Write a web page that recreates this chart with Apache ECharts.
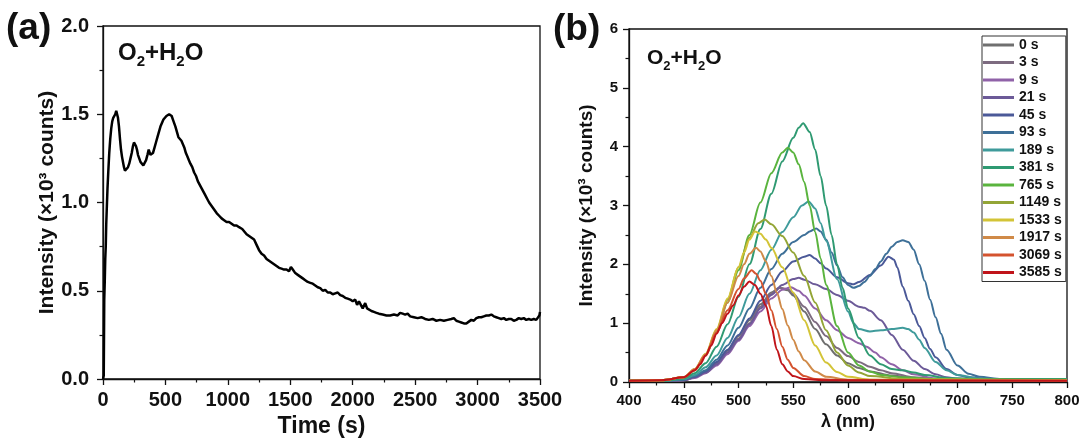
<!DOCTYPE html>
<html>
<head>
<meta charset="utf-8">
<script src="https://cdn.jsdelivr.net/npm/echarts@6/dist/echarts.min.js"></script>
<style>
  html, body { margin: 0; padding: 0; background: #fff; }
  #chart { width: 1084px; height: 448px; }
</style>
</head>
<body>
<div id="chart"></div>
<script>
// ---- panel (a): integrated intensity vs time, [s, x10^3 counts] ----
const intensityTrace = [
  [0,0],[6,0.02],[10,0.45],[14,0.55],[18,0.68],[22,0.75],[26,0.88],[30,0.96],[36,1.08],[42,1.17],
  [50,1.28],[58,1.36],[66,1.42],[74,1.46],[82,1.48],[90,1.49],[98,1.50],[106,1.52],[112,1.51],[120,1.48],
  [128,1.43],[136,1.36],[144,1.30],[152,1.26],[160,1.23],[168,1.20],[176,1.18],[184,1.175],[192,1.18],[200,1.20],
  [210,1.22],[220,1.25],[230,1.28],[240,1.32],[248,1.34],[256,1.345],[264,1.32],[272,1.30],[280,1.27],[290,1.25],
  [300,1.23],[310,1.22],[323,1.21],[334,1.22],[345,1.24],[356,1.27],[366,1.30],[372,1.29],[380,1.27],[390,1.26],
  [400,1.28],[412,1.31],[424,1.34],[436,1.37],[448,1.40],[460,1.43],[472,1.45],[484,1.47],[496,1.48],[508,1.49],
  [520,1.49],[530,1.50],[540,1.50],[550,1.49],[560,1.47],[570,1.45],[580,1.43],[592,1.40],[604,1.37],[616,1.36],
  [628,1.35],[640,1.34],[652,1.31],[664,1.28],[676,1.26],[688,1.24],[700,1.22],[715,1.20],[730,1.17],[745,1.15],
  [760,1.12],[775,1.10],[790,1.08],[805,1.06],[820,1.04],[835,1.02],[850,1.00],[870,0.98],[890,0.96],[910,0.94],
  [930,0.925],[950,0.91],[970,0.90],[990,0.89],[1010,0.89],[1030,0.88],[1050,0.87],[1070,0.87],[1090,0.86],[1105,0.87],
  [1115,0.85],[1130,0.84],[1150,0.82],[1170,0.81],[1190,0.80],[1210,0.79],[1230,0.76],[1250,0.73],[1270,0.71],[1290,0.70],
  [1310,0.68],[1330,0.67],[1350,0.66],[1370,0.65],[1390,0.64],[1410,0.63],[1430,0.625],[1450,0.62],[1470,0.62],[1490,0.61],
  [1505,0.635],[1520,0.62],[1540,0.60],[1560,0.59],[1580,0.58],[1600,0.57],[1620,0.56],[1640,0.55],[1660,0.545],[1680,0.54],
  [1700,0.53],[1720,0.52],[1740,0.515],[1760,0.50],[1780,0.505],[1800,0.49],[1820,0.49],[1840,0.48],[1860,0.485],[1880,0.49],
  [1900,0.475],[1920,0.47],[1940,0.46],[1960,0.455],[1980,0.45],[2000,0.44],[2020,0.45],[2035,0.42],[2050,0.44],[2065,0.43],
  [2080,0.40],[2100,0.43],[2115,0.40],[2130,0.39],[2150,0.385],[2170,0.38],[2190,0.375],[2210,0.37],[2240,0.365],[2270,0.36],
  [2300,0.36],[2330,0.365],[2360,0.36],[2380,0.375],[2400,0.37],[2420,0.365],[2440,0.37],[2460,0.355],[2490,0.35],[2520,0.345],
  [2550,0.35],[2580,0.34],[2610,0.335],[2640,0.34],[2670,0.33],[2700,0.335],[2730,0.33],[2760,0.335],[2790,0.34],[2810,0.345],
  [2830,0.33],[2850,0.325],[2870,0.32],[2890,0.315],[2910,0.315],[2930,0.325],[2950,0.335],[2970,0.33],[2990,0.345],[3010,0.35],
  [3030,0.35],[3050,0.355],[3070,0.36],[3090,0.36],[3110,0.365],[3130,0.355],[3150,0.35],[3170,0.345],[3190,0.34],[3210,0.345],
  [3230,0.335],[3250,0.34],[3270,0.34],[3290,0.33],[3310,0.335],[3330,0.345],[3350,0.34],[3370,0.345],[3390,0.335],[3410,0.34],
  [3430,0.335],[3450,0.34],[3470,0.335],[3485,0.34],[3495,0.36],[3500,0.38]
];

// ---- panel (b): emission spectra, [nm, x10^3 counts] ----
const spectrumLabels = ['0 s','3 s','9 s','21 s','45 s','93 s','189 s','381 s','765 s','1149 s','1533 s','1917 s','3069 s','3585 s'];
const spectrumColors = ['#6f6f6f','#7d6b80','#9062a8','#6c5a98','#4b5998','#3e7098','#3f9b9b','#2f9a72','#5ab43e','#93a536','#d3c437','#d08a48','#d4532f','#c0141a'];

const spec0 = [[400,0.02],[430,0.02],[450,0.03],[460,0.08],[470,0.17],[480,0.32],[490,0.53],[500,0.78],[510,1.05],[520,1.32],[530,1.52],[537,1.6],[545,1.56],[550,1.47],[560,1.2],[570,0.9],[580,0.64],[590,0.45],[600,0.32],[610,0.24],[620,0.18],[640,0.11],[660,0.07],[700,0.04],[800,0.03]];
const spec3 = [[400,0.02],[430,0.02],[450,0.03],[460,0.08],[470,0.16],[480,0.3],[490,0.5],[500,0.74],[510,1.0],[520,1.28],[530,1.5],[538,1.6],[545,1.58],[550,1.5],[560,1.28],[570,1.02],[580,0.78],[590,0.58],[600,0.44],[610,0.34],[620,0.26],[630,0.2],[640,0.15],[660,0.08],[680,0.05],[800,0.03]];
const spec9 = [[400,0.02],[430,0.02],[450,0.03],[460,0.07],[470,0.15],[480,0.28],[490,0.47],[500,0.7],[510,0.95],[520,1.2],[530,1.42],[540,1.57],[548,1.61],[555,1.55],[560,1.47],[570,1.25],[580,1.05],[590,0.88],[600,0.75],[610,0.66],[617,0.6],[625,0.5],[630,0.42],[640,0.3],[650,0.2],[660,0.13],[680,0.06],[700,0.04],[800,0.03]];
const spec21 = [[400,0.02],[430,0.02],[450,0.03],[460,0.08],[470,0.16],[480,0.3],[490,0.5],[500,0.72],[510,0.98],[520,1.25],[530,1.48],[540,1.65],[550,1.75],[555,1.77],[560,1.74],[570,1.66],[580,1.58],[590,1.48],[600,1.38],[610,1.28],[615,1.26],[620,1.21],[630,1.05],[640,0.8],[650,0.55],[660,0.36],[670,0.22],[680,0.13],[690,0.08],[700,0.06],[720,0.04],[800,0.03]];
const spec45 = [[400,0.02],[430,0.02],[450,0.04],[460,0.09],[470,0.18],[480,0.34],[490,0.55],[500,0.8],[510,1.08],[520,1.38],[530,1.65],[540,1.88],[550,2.05],[560,2.13],[565,2.16],[570,2.1],[575,2.02],[580,1.93],[590,1.78],[600,1.68],[605,1.66],[610,1.7],[620,1.82],[630,1.98],[637,2.13],[642,2.08],[645,1.95],[650,1.62],[655,1.38],[660,1.15],[665,0.95],[670,0.75],[675,0.56],[680,0.42],[690,0.22],[700,0.12],[710,0.08],[730,0.05],[800,0.03]];
const spec93 = [[400,0.02],[430,0.02],[450,0.04],[460,0.1],[470,0.2],[480,0.38],[490,0.62],[500,0.92],[510,1.25],[520,1.6],[530,1.92],[540,2.18],[550,2.38],[560,2.5],[565,2.56],[571,2.61],[575,2.56],[580,2.42],[585,2.2],[590,1.98],[595,1.78],[600,1.65],[605,1.6],[610,1.63],[615,1.7],[620,1.8],[625,1.92],[630,2.05],[635,2.18],[640,2.3],[645,2.38],[650,2.41],[655,2.38],[660,2.25],[665,2.0],[670,1.72],[675,1.4],[680,1.1],[685,0.82],[690,0.55],[700,0.28],[710,0.14],[720,0.09],[740,0.05],[800,0.04]];
const spec189 = [[400,0.02],[430,0.02],[450,0.05],[460,0.12],[470,0.25],[480,0.45],[490,0.75],[500,1.1],[510,1.5],[520,1.9],[530,2.25],[540,2.55],[550,2.8],[558,3.0],[564,3.07],[570,2.95],[575,2.7],[580,2.4],[590,1.75],[600,1.2],[605,1.0],[610,0.9],[620,0.86],[630,0.88],[640,0.9],[650,0.92],[655,0.9],[660,0.84],[665,0.72],[670,0.58],[680,0.34],[690,0.2],[700,0.12],[720,0.06],[750,0.04],[800,0.05]];
const spec381 = [[400,0.02],[430,0.02],[450,0.06],[460,0.15],[470,0.32],[480,0.6],[490,0.98],[500,1.45],[510,2.0],[520,2.6],[530,3.2],[540,3.75],[550,4.15],[555,4.32],[559,4.4],[565,4.25],[570,3.95],[575,3.5],[580,3.0],[585,2.5],[590,2.0],[595,1.6],[600,1.25],[610,0.75],[620,0.45],[630,0.3],[640,0.22],[650,0.2],[660,0.16],[670,0.12],[690,0.07],[720,0.05],[800,0.05]];
const spec765 = [[400,0.02],[430,0.03],[450,0.08],[460,0.2],[470,0.45],[480,0.85],[490,1.35],[500,1.9],[510,2.5],[520,3.05],[530,3.55],[540,3.9],[545,3.98],[550,3.9],[555,3.7],[560,3.4],[565,3.0],[570,2.55],[575,2.1],[580,1.65],[590,0.95],[600,0.5],[610,0.28],[620,0.18],[630,0.12],[650,0.08],[680,0.05],[720,0.04],[800,0.04]];
const spec1149 = [[400,0.02],[430,0.03],[450,0.08],[460,0.2],[470,0.46],[480,0.88],[490,1.4],[500,1.95],[510,2.45],[518,2.7],[524,2.76],[530,2.68],[540,2.48],[550,2.2],[560,1.8],[570,1.35],[580,0.88],[590,0.5],[600,0.28],[610,0.16],[620,0.1],[650,0.05],[800,0.03]];
const spec1533 = [[400,0.02],[430,0.03],[450,0.08],[460,0.22],[470,0.48],[480,0.9],[490,1.42],[500,1.95],[505,2.2],[510,2.42],[515,2.56],[520,2.52],[525,2.42],[530,2.28],[540,1.95],[550,1.52],[560,1.05],[570,0.62],[580,0.33],[590,0.17],[600,0.09],[620,0.04],[800,0.03]];
const spec1917 = [[400,0.02],[430,0.03],[450,0.08],[460,0.22],[470,0.47],[480,0.88],[490,1.35],[500,1.8],[505,2.0],[510,2.18],[516,2.28],[520,2.22],[525,2.05],[530,1.8],[535,1.52],[540,1.24],[545,0.96],[550,0.72],[555,0.52],[560,0.37],[570,0.18],[580,0.09],[600,0.04],[800,0.02]];
const spec3069 = [[400,0.02],[430,0.03],[450,0.08],[460,0.2],[470,0.45],[480,0.84],[490,1.22],[500,1.58],[505,1.76],[512,1.9],[516,1.84],[520,1.72],[525,1.5],[530,1.22],[535,0.9],[540,0.6],[545,0.38],[550,0.24],[560,0.1],[570,0.05],[600,0.03],[800,0.02]];
const spec3585 = [[400,0.02],[430,0.03],[450,0.08],[460,0.2],[465,0.3],[470,0.45],[475,0.62],[480,0.82],[485,1.0],[490,1.16],[495,1.3],[500,1.47],[505,1.62],[510,1.71],[515,1.65],[520,1.5],[525,1.3],[530,0.95],[535,0.55],[540,0.3],[545,0.18],[550,0.1],[560,0.05],[580,0.03],[800,0.02]];

const spectra = [spec0, spec3, spec9, spec21, spec45, spec93, spec189, spec381, spec765, spec1149, spec1533, spec1917, spec3069, spec3585];

const FONT = '"Liberation Sans", Arial, sans-serif';
const INK = '#111';

function frameAxis(extra) {
  return Object.assign({
    axisLine: { show: true, lineStyle: { color: INK, width: 1.3 } },
    axisTick: { show: true, inside: false, length: 6, lineStyle: { color: INK, width: 1.3 } },
    minorTick: { show: true, splitNumber: 2, length: 3.5, lineStyle: { color: INK, width: 1.2 } },
    splitLine: { show: false },
    minorSplitLine: { show: false }
  }, extra);
}

const formula = (size, sub) => ({
  m: { fontSize: size, fontWeight: 'bold', fontFamily: FONT, color: INK, lineHeight: size, verticalAlign: 'top' },
  s: { fontSize: sub, fontWeight: 'bold', fontFamily: FONT, color: INK, lineHeight: sub, verticalAlign: 'top', padding: [Math.round(size * 0.55), 0, 0, 0] }
});

const spectrumSeries = spectra.map((pts, i) => ({
  name: spectrumLabels[i],
  type: 'line',
  xAxisIndex: 1,
  yAxisIndex: 1,
  data: pts,
  showSymbol: false,
  symbol: 'none',
  smooth: 0.3,
  smoothMonotone: 'x',
  lineStyle: { color: spectrumColors[i], width: 2 },
  itemStyle: { color: spectrumColors[i] },
  animation: false,
  z: 2 + i
}));

const chart = echarts.init(document.getElementById('chart'), null, { renderer: 'canvas' });

chart.setOption({
  backgroundColor: '#fff',
  animation: false,
  textStyle: { fontFamily: FONT },
  title: [
    { text: '(a)', left: 1, top: 5, textStyle: { fontSize: 37, fontWeight: 'bold', fontFamily: FONT, color: INK } },
    { text: '(b)', left: 548, top: 6, textStyle: { fontSize: 37, fontWeight: 'bold', fontFamily: FONT, color: INK } },
    { text: '{m|O}{s|2}{m|+H}{s|2}{m|O}', left: 118, top: 41, padding: 0, textStyle: { rich: formula(24, 15) } },
    { text: '{m|O}{s|2}{m|+H}{s|2}{m|O}', left: 647, top: 48, padding: 0, textStyle: { rich: formula(21, 13) } }
  ],
  grid: [
    { left: 103, top: 26, width: 437, height: 353, show: true, borderColor: INK, borderWidth: 1.3, backgroundColor: 'transparent' },
    { left: 629, top: 29, width: 438, height: 353, show: true, borderColor: INK, borderWidth: 1.3, backgroundColor: 'transparent' }
  ],
  xAxis: [
    frameAxis({
      gridIndex: 0, type: 'value', min: 0, max: 3500, interval: 500,
      name: 'Time (s)', nameLocation: 'middle', nameGap: 29,
      nameTextStyle: { fontSize: 23, fontWeight: 'bold', fontFamily: FONT, color: INK },
      axisLabel: { fontSize: 20, fontWeight: 'bold', fontFamily: FONT, color: INK, margin: 11,
        formatter: v => String(v) }
    }),
    frameAxis({
      gridIndex: 1, type: 'value', min: 400, max: 800, interval: 50,
      name: 'λ (nm)', nameLocation: 'middle', nameGap: 29,
      nameTextStyle: { fontSize: 18, fontWeight: 'bold', fontFamily: FONT, color: INK },
      axisLabel: { fontSize: 15, fontWeight: 'bold', fontFamily: FONT, color: INK, margin: 11 }
    })
  ],
  yAxis: [
    frameAxis({
      gridIndex: 0, type: 'value', min: 0, max: 2, interval: 0.5,
      name: 'Intensity (×10³ counts)', nameLocation: 'middle', nameGap: 42, nameRotate: 90,
      nameTextStyle: { fontSize: 21, fontWeight: 'bold', fontFamily: FONT, color: INK },
      axisLabel: { fontSize: 20, fontWeight: 'bold', fontFamily: FONT, color: INK, margin: 14,
        formatter: v => v.toFixed(1) }
    }),
    frameAxis({
      gridIndex: 1, type: 'value', min: 0, max: 6, interval: 1,
      name: 'Intensity (×10³ counts)', nameLocation: 'middle', nameGap: 33, nameRotate: 90,
      nameTextStyle: { fontSize: 19, fontWeight: 'bold', fontFamily: FONT, color: INK },
      axisLabel: { fontSize: 15, fontWeight: 'bold', fontFamily: FONT, color: INK, margin: 11 }
    })
  ],
  legend: {
    data: spectrumLabels,
    orient: 'vertical',
    left: 982,
    top: 36,
    icon: 'rect',
    itemWidth: 31,
    itemHeight: 3,
    itemGap: 3.5,
    itemTextGap: 3,
    padding: [2, 4, 2, 1],
    borderColor: '#333',
    borderWidth: 1,
    backgroundColor: '#fff',
    selectedMode: false,
    textStyle: { fontSize: 14, fontWeight: 'bold', fontFamily: FONT, color: INK, lineHeight: 14 }
  },
  series: [
    {
      name: 'intensity',
      type: 'line',
      xAxisIndex: 0,
      yAxisIndex: 0,
      data: intensityTrace,
      showSymbol: false,
      symbol: 'none',
      lineStyle: { color: '#000', width: 2.5 },
      animation: false
    }
  ].concat(spectrumSeries)
});
</script>
</body>
</html>
